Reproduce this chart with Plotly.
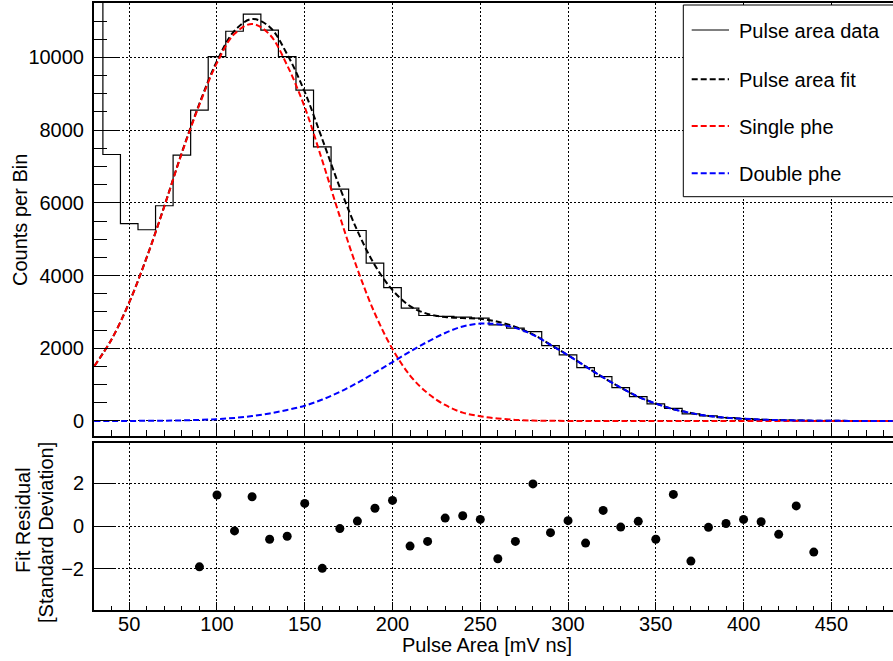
import plotly.graph_objects as go

# ---------------- data ----------------
bin_centers = [30, 40, 50, 60, 70, 80, 90, 100, 110, 120, 130, 140, 150, 160, 170, 180,
               190, 200, 210, 220, 230, 240, 250, 260, 270, 280, 290, 300, 310, 320, 330,
               340, 350, 360, 370, 380, 390, 400, 410, 420, 430, 440, 450, 460, 470, 480]
counts = [12500, 7330, 5430, 5260, 5920, 7310, 8550, 10020, 10720, 11190, 10750, 10020,
          9100, 7540, 6380, 5240, 4340, 3670, 3104, 2901, 2875, 2856, 2829, 2645, 2553,
          2460, 2074, 1818, 1468, 1220, 917, 669, 468, 349, 193, 138, 92, 64, 39, 22, 19,
          5, 5, 3, 2, 1]

fit_x = [30, 40, 50, 60, 70, 80, 90, 100, 110, 120, 130, 140, 150, 160, 170, 180, 190,
         200, 210, 220, 230, 240, 250, 260, 270, 280, 290, 300, 310, 320, 330, 340, 350,
         360, 370, 380, 390, 400, 410, 420, 430, 440, 450, 460, 470, 480, 485]
fit_total = [1501, 2251, 3262, 4505, 5909, 7387, 8730, 9901, 10734, 11055, 10839, 10085,
             9050, 7750, 6420, 5230, 4280, 3600, 3160, 2945, 2860, 2830, 2810, 2730, 2590,
             2382, 2100, 1810, 1501, 1198, 920, 668, 480, 325, 218, 140, 90, 62, 38, 24,
             15, 9, 5, 3, 2, 1, 1]
fit_single = [1500, 2250, 3260, 4500, 5900, 7370, 8700, 9850, 10650, 10920, 10630, 9780,
              8630, 7160, 5620, 4180, 2950, 1980, 1250, 765, 440, 230, 130, 70, 30, 12, 5,
              2, 1, 0, 0, 0, 0, 0, 0, 0, 0, 0, 0, 0, 0, 0, 0, 0, 0, 0, 0]
fit_double = [1, 1, 2, 5, 9, 17, 30, 51, 84, 135, 209, 305, 420, 590, 800, 1050, 1330,
              1620, 1910, 2180, 2420, 2600, 2680, 2660, 2560, 2370, 2095, 1808, 1500, 1198,
              920, 668, 480, 325, 218, 140, 90, 62, 38, 24, 15, 9, 5, 3, 2, 1, 1]

resid_x = [90, 100, 110, 120, 130, 140, 150, 160, 170, 180, 190, 200, 210, 220, 230, 240,
           250, 260, 270, 280, 290, 300, 310, 320, 330, 340, 350, 360, 370, 380, 390, 400,
           410, 420, 430, 440]
resid = [-1.91, 1.45, -0.23, 1.37, -0.62, -0.48, 1.06, -1.98, -0.12, 0.23, 0.83, 1.20,
         -0.94, -0.72, 0.37, 0.48, 0.31, -1.53, -0.72, 1.97, -0.31, 0.25, -0.80, 0.73,
         -0.05, 0.22, -0.62, 1.48, -1.64, -0.06, 0.12, 0.31, 0.20, -0.39, 0.94, -1.22]

legend_labels = ["Pulse area data", "Pulse area fit", "Single phe", "Double phe"]

# ---------------- figure ----------------
W, H = 893, 661
ML, MR, MT, MB = 94, 0, 3, 51
PW, PH = W - ML - MR, H - MT - MB
FONT = "Liberation Sans, Arial, Helvetica, sans-serif"
DASH = "6px,3px"


def px2x(px):
    return (px - ML) / PW


def py2y(py):
    return (H - MB - py) / PH


fig = go.Figure()
fig.add_trace(go.Scatter(x=bin_centers, y=counts, mode="lines", line_shape="hvh",
                         line=dict(color="black", width=1.2), xaxis="x", yaxis="y",
                         showlegend=False))
fig.add_trace(go.Scatter(x=fit_x, y=fit_total, mode="lines", line_shape="spline",
                         line=dict(color="black", width=2, dash=DASH), xaxis="x", yaxis="y",
                         showlegend=False))
fig.add_trace(go.Scatter(x=fit_x, y=fit_single, mode="lines", line_shape="spline",
                         line=dict(color="#ff0000", width=2, dash=DASH), xaxis="x", yaxis="y",
                         showlegend=False))
fig.add_trace(go.Scatter(x=fit_x, y=fit_double, mode="lines", line_shape="spline",
                         line=dict(color="#0000ff", width=2, dash=DASH), xaxis="x", yaxis="y",
                         showlegend=False))
fig.add_trace(go.Scatter(x=resid_x, y=resid, mode="markers",
                         marker=dict(color="black", size=9), xaxis="x2", yaxis="y2",
                         showlegend=False))

XR = [(94 - 41.45) / 1.7553, (893 - 41.45) / 1.7553]
grid = dict(showgrid=True, gridcolor="black", gridwidth=1, griddash="2px,2px",
            zeroline=False, showline=True, linecolor="black", linewidth=2)
tickfont = dict(family=FONT, size=20, color="black")

fig.update_layout(
    width=W, height=H, autosize=False,
    margin=dict(l=ML, r=MR, t=MT, b=MB),
    paper_bgcolor="white", plot_bgcolor="white",
    xaxis=dict(domain=[0, 1], anchor="y", range=XR, tick0=0, dtick=50,
               ticks="inside", ticklen=13, tickwidth=1, tickcolor="black",
               showticklabels=False, mirror=True,
               minor=dict(ticks="inside", ticklen=6, dtick=10, tickcolor="black",
                          showgrid=False),
               **grid),
    yaxis=dict(domain=[py2y(436), 1], anchor="x", range=[-413, 11497], tick0=0, dtick=2000,
               ticks="inside", ticklen=24, tickwidth=1, tickcolor="black",
               tickfont=tickfont, ticklabelstandoff=4, tickformat="d",
               minor=dict(ticks="inside", ticklen=13, dtick=500, tickcolor="black",
                          showgrid=False),
               **grid),
    xaxis2=dict(domain=[0, 1], anchor="y2", range=XR, tick0=0, dtick=50,
                ticks="inside", ticklen=8, tickwidth=1, tickcolor="black",
                tickfont=tickfont, mirror=True, ticklabelstandoff=-5,
                minor=dict(ticks="inside", ticklen=4, dtick=10, tickcolor="black",
                           showgrid=False),
                **grid),
    yaxis2=dict(domain=[0, py2y(442.7)], anchor="x2", range=[-3.93, 3.90], tick0=0, dtick=2,
                ticks="inside", ticklen=20, tickwidth=1, tickcolor="black",
                tickfont=tickfont, ticklabelstandoff=4,
                **grid),
)

ann = []
ann.append(dict(text="Counts per Bin", x=px2x(20), y=py2y(220), xref="paper", yref="paper",
                textangle=-90, showarrow=False, xanchor="center", yanchor="middle",
                font=dict(family=FONT, size=20, color="black")))
ann.append(dict(text="Fit Residual", x=px2x(23), y=py2y(520), xref="paper", yref="paper",
                textangle=-90, showarrow=False, xanchor="center", yanchor="middle",
                font=dict(family=FONT, size=20, color="black")))
ann.append(dict(text="[Standard Deviation]", x=px2x(46), y=py2y(533), xref="paper",
                yref="paper", textangle=-90, showarrow=False, xanchor="center",
                yanchor="middle", font=dict(family=FONT, size=20, color="black")))
ann.append(dict(text="Pulse Area [mV ns]", x=px2x(486.5), y=py2y(645), xref="paper",
                yref="paper", showarrow=False, xanchor="center", yanchor="middle",
                font=dict(family=FONT, size=20, color="black")))

# legend box drawn by hand
shapes = [dict(type="rect", xref="paper", yref="paper", x0=px2x(683.3), x1=px2x(905),
               y0=py2y(196.7), y1=py2y(5), line=dict(color="black", width=1),
               fillcolor="white", layer="above")]
leg_y = [30, 79.3, 126, 173.3]
leg_styles = [dict(color="black", width=1),
              dict(color="black", width=2, dash=DASH),
              dict(color="#ff0000", width=2, dash=DASH),
              dict(color="#0000ff", width=2, dash=DASH)]
for lab, ly, st in zip(legend_labels, leg_y, leg_styles):
    shapes.append(dict(type="line", xref="paper", yref="paper", x0=px2x(691.7),
                       x1=px2x(729), y0=py2y(ly), y1=py2y(ly), line=st, layer="above"))
    ann.append(dict(text=lab, x=px2x(737), y=py2y(ly + 1), xref="paper", yref="paper",
                    showarrow=False, xanchor="left", yanchor="middle",
                    font=dict(family=FONT, size=20, color="black")))

fig.update_layout(annotations=ann, shapes=shapes)
fig.write_html("out.html", config={"displayModeBar": False},
               post_script="document.body.style.margin='0';document.body.style.overflow='hidden';")
